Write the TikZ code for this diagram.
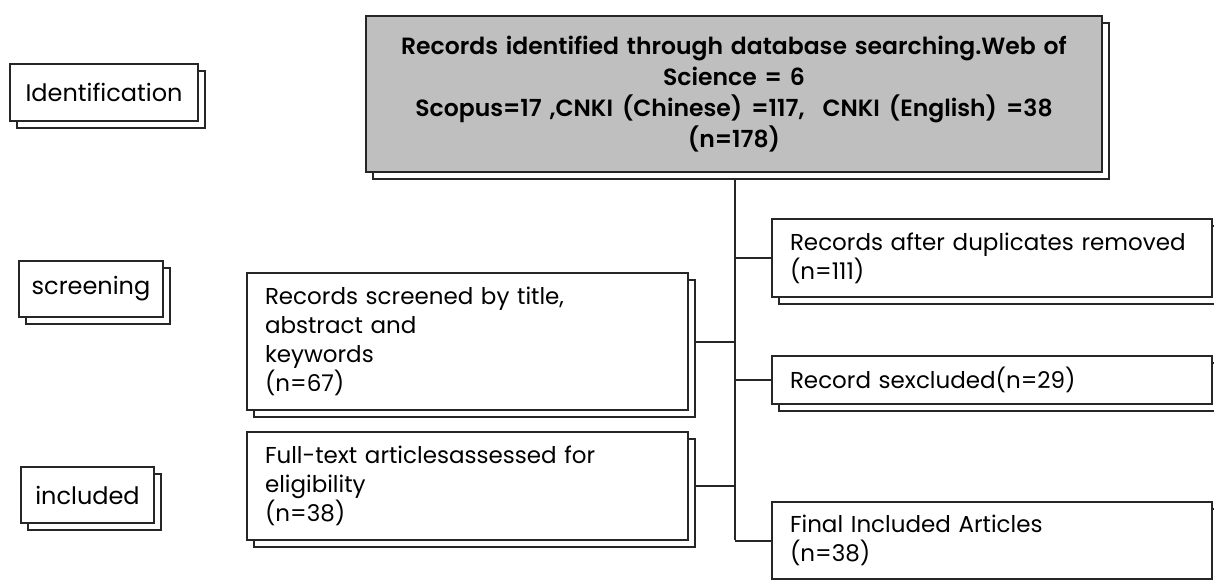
\documentclass[tikz,border=0pt]{standalone}
\usepackage{fontspec}
\setmainfont{Poppins}[BoldFont={Poppins SemiBold}]
\usetikzlibrary{backgrounds,calc}
\definecolor{ink}{HTML}{262626}
\definecolor{boxgray}{HTML}{BFBFBF}
\newcommand\pgap{\hspace{9pt}}
\tikzset{
  frame/.style={draw=ink, line width=2.2pt, fill=white, inner sep=0pt,
    outer sep=0pt, anchor=north west},
  stage/.style={frame, align=center, font=\fontsize{24}{29}\selectfont},
  entry/.style={frame, align=left, inner xsep=18pt,
    font=\fontsize{23}{29}\selectfont},
  source/.style={frame, fill=boxgray, align=center,
    font=\bfseries\fontsize{23.5}{31}\selectfont},
  backing/.style={draw=ink, line width=2.2pt, fill=white},
  link/.style={draw=ink, line width=2pt}
}
\begin{document}
\begin{tikzpicture}[x=1pt, y=-1pt]
\useasboundingbox (0,0) rectangle (1214,579);

% stage labels
\node[stage, minimum width=188pt, minimum height=57pt] (ident) at (10,64) {Identification};
\node[stage, minimum width=144pt, minimum height=56pt] (screening) at (19,261) {screening};
\node[stage, minimum width=133pt, minimum height=56pt] (included) at (21,467) {included};

% search results
\node[source, minimum width=736pt, minimum height=156pt, text width=720pt] (search) at (366,16)
  {Records identified through database searching.Web of\\
   Science = 6\\
   Scopus=17 ,CNKI\pgap(Chinese)\pgap=117,\pgap\pgap CNKI\pgap(English)\pgap=38\\
   (n=178)};

% left column
\node[entry, minimum height=137pt, text width=405pt] (screened) at (247,273)
  {Records screened by title,\\abstract and\\keywords\\(n=67)};
\node[entry, minimum height=108pt, text width=405pt] (fulltext) at (247,432)
  {Full-text articlesassessed for\\eligibility\\(n=38)};

% right column
\node[entry, minimum height=78pt, text width=404pt] (dedup) at (772,219)
  {Records after duplicates removed\\(n=111)};
\node[entry, minimum height=48pt, text width=404pt] (excluded) at (772,356)
  {Record sexcluded(n=29)};
\node[entry, minimum height=77pt, text width=404pt] (final) at (772,502)
  {Final Included Articles\\(n=38)};

\coordinate (trunk) at (735,540);

\begin{scope}[on background layer]
  % connectors
  \draw[link] (search.south -| trunk) -- (trunk);
  \draw[link] (trunk |- dedup.west) -- (dedup.west);
  \draw[link] (trunk |- excluded.west) -- (excluded.west);
  \draw[link] (trunk |- final.west) -- (final.west);
  \draw[link] (screened.east) -- (screened.east -| trunk);
  \draw[link] (fulltext.east) -- (fulltext.east -| trunk);
  % stacked backing sheets
  \foreach \n in {ident,screening,included,search,screened,fulltext,dedup,excluded,final}
    \draw[backing] ([shift={(7pt,-7pt)}]\n.north west) rectangle ([shift={(7pt,-7pt)}]\n.south east);
\end{scope}
\end{tikzpicture}
\end{document}
